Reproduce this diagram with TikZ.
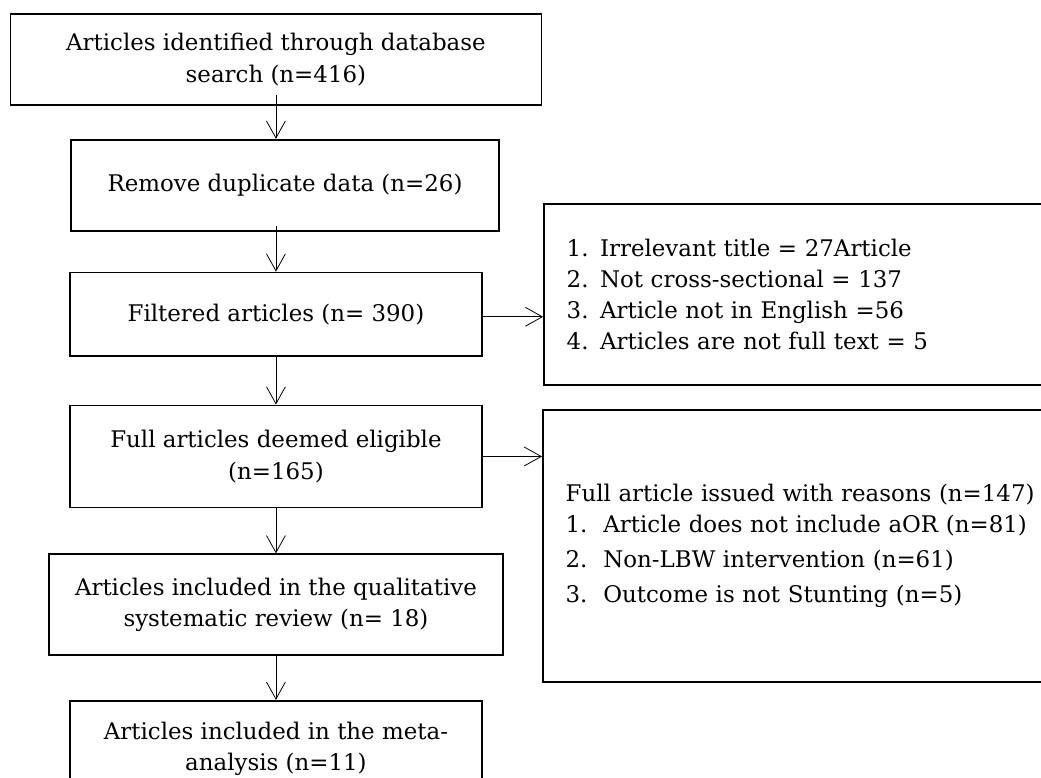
\documentclass[tikz,border=0pt]{standalone}
\usepackage{fontspec}
\setmainfont{DejaVu Serif}
\usepackage{tikz}
\usetikzlibrary{positioning, arrows.meta}
\tikzstyle{stage} = [rectangle, draw=black, line width=1.3pt, text centered, align=center, inner sep=0pt, font=\fontsize{17.25}{23.5}\selectfont]
\tikzstyle{reasons} = [rectangle, draw=black, line width=1.3pt, anchor=north west, minimum width=13.8cm, text width=12.6cm, align=left, inner xsep=0.57cm, font=\fontsize{17.25}{23.5}\selectfont]
\tikzstyle{arrow} = [line width=0.6pt, -{Straight Barb[length=0.45cm, width=0.5cm]}]

\begin{document}
\begin{tikzpicture}
        \useasboundingbox (0,0) rectangle (27.54,-20.58);
        \node (search) [stage, minimum width=14.05cm, minimum height=2.41cm] at (7.30,-1.574) {Articles identified through database\\search (n=416)};
        \node (dedup) [stage, minimum width=11.32cm, minimum height=2.41cm, below=0.87cm of search, xshift=0.24cm] {Remove duplicate data (n=26)};
        \node (filtered) [stage, minimum width=10.90cm, minimum height=2.20cm, below=1.06cm of dedup, xshift=-0.24cm] {Filtered articles (n= 390)};
        \node (eligible) [stage, minimum width=10.90cm, minimum height=2.70cm, below=1.27cm of filtered] {Full articles deemed eligible\\(n=165)};
        \node (qualit) [stage, minimum width=12.01cm, minimum height=2.67cm, below=1.19cm of eligible] {Articles included in the qualitative\\systematic review (n= 18)};
        \node (meta) [stage, minimum width=10.90cm, minimum height=2.55cm, below=1.16cm of qualit] {Articles included in the meta-\\analysis (n=11)};

        \node (excluded) [reasons, minimum height=4.79cm] at (14.37,-5.37) {1. Irrelevant title = 27Article\\2. Not cross-sectional = 137\\3. Article not in English =56\\4. Articles are not full text = 5};
        \node (issued) [reasons, minimum height=7.20cm] at (14.34,-10.82) {Full article issued with reasons (n=147)\\
            \makebox[1cm][l]{1.}Article does not include aOR (n=81)\\[3pt]
            \makebox[1cm][l]{2.}Non-LBW intervention (n=61)\\[3pt]
            \makebox[1cm][l]{3.}Outcome is not Stunting (n=5)};

        \draw [arrow, shorten <=-0.29cm] (search) -- (search |- dedup.north);
        \draw [arrow, shorten <=-0.16cm] (dedup.south -| filtered) -- (filtered);
        \draw [arrow] (filtered) -- (eligible);
        \draw [arrow] (eligible) -- (qualit);
        \draw [arrow] (qualit) -- (meta);
        \draw [arrow] ([yshift=-0.07cm]filtered.east) -- ([yshift=-0.07cm]filtered.east -| excluded.west);
        \draw [arrow] (eligible.east) -- (eligible.east -| issued.west);
    \end{tikzpicture}
\end{document}
